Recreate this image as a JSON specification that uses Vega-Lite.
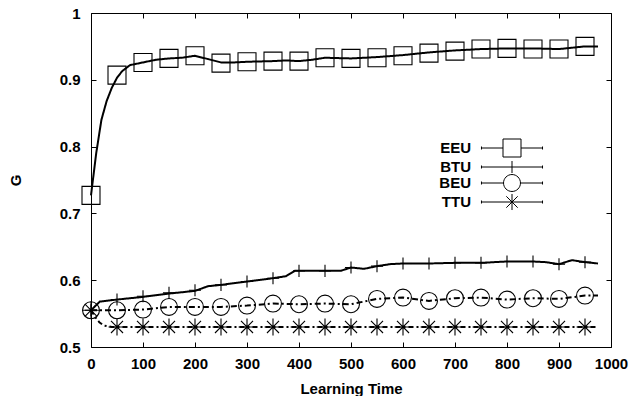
{
  "$schema": "https://vega.github.io/schema/vega-lite/v6.json",
  "width": 520,
  "height": 334,
  "autosize": "none",
  "padding": {"left": 91, "top": 13, "right": 33, "bottom": 49},
  "background": "white",
  "config": {
    "view": {"stroke": "black", "strokeWidth": 1},
    "font": "Liberation Sans"
  },
  "datasets": {
    "lines": [
      {"series": "EEU", "t": 0, "g": 0.727}, {"series": "EEU", "t": 10, "g": 0.79}, {"series": "EEU", "t": 20, "g": 0.84},
      {"series": "EEU", "t": 30, "g": 0.868}, {"series": "EEU", "t": 40, "g": 0.888}, {"series": "EEU", "t": 50, "g": 0.903},
      {"series": "EEU", "t": 60, "g": 0.913}, {"series": "EEU", "t": 75, "g": 0.922}, {"series": "EEU", "t": 100, "g": 0.926},
      {"series": "EEU", "t": 125, "g": 0.93}, {"series": "EEU", "t": 150, "g": 0.932}, {"series": "EEU", "t": 175, "g": 0.933},
      {"series": "EEU", "t": 200, "g": 0.936}, {"series": "EEU", "t": 225, "g": 0.931}, {"series": "EEU", "t": 250, "g": 0.926},
      {"series": "EEU", "t": 275, "g": 0.926}, {"series": "EEU", "t": 300, "g": 0.927}, {"series": "EEU", "t": 350, "g": 0.928},
      {"series": "EEU", "t": 375, "g": 0.929}, {"series": "EEU", "t": 400, "g": 0.928}, {"series": "EEU", "t": 425, "g": 0.93},
      {"series": "EEU", "t": 450, "g": 0.933}, {"series": "EEU", "t": 500, "g": 0.932}, {"series": "EEU", "t": 525, "g": 0.933},
      {"series": "EEU", "t": 550, "g": 0.934}, {"series": "EEU", "t": 600, "g": 0.937}, {"series": "EEU", "t": 650, "g": 0.941},
      {"series": "EEU", "t": 700, "g": 0.944}, {"series": "EEU", "t": 750, "g": 0.946}, {"series": "EEU", "t": 800, "g": 0.947},
      {"series": "EEU", "t": 850, "g": 0.947}, {"series": "EEU", "t": 900, "g": 0.946}, {"series": "EEU", "t": 925, "g": 0.948},
      {"series": "EEU", "t": 950, "g": 0.95}, {"series": "EEU", "t": 975, "g": 0.95},

      {"series": "BTU", "t": 0, "g": 0.555}, {"series": "BTU", "t": 17, "g": 0.568}, {"series": "BTU", "t": 50, "g": 0.571},
      {"series": "BTU", "t": 100, "g": 0.575}, {"series": "BTU", "t": 150, "g": 0.58}, {"series": "BTU", "t": 200, "g": 0.584},
      {"series": "BTU", "t": 225, "g": 0.591}, {"series": "BTU", "t": 250, "g": 0.593}, {"series": "BTU", "t": 300, "g": 0.598},
      {"series": "BTU", "t": 350, "g": 0.603}, {"series": "BTU", "t": 375, "g": 0.606}, {"series": "BTU", "t": 392, "g": 0.614},
      {"series": "BTU", "t": 480, "g": 0.614}, {"series": "BTU", "t": 500, "g": 0.619}, {"series": "BTU", "t": 525, "g": 0.617},
      {"series": "BTU", "t": 550, "g": 0.621}, {"series": "BTU", "t": 575, "g": 0.624}, {"series": "BTU", "t": 600, "g": 0.625},
      {"series": "BTU", "t": 650, "g": 0.625}, {"series": "BTU", "t": 700, "g": 0.626}, {"series": "BTU", "t": 750, "g": 0.626},
      {"series": "BTU", "t": 800, "g": 0.628}, {"series": "BTU", "t": 850, "g": 0.628}, {"series": "BTU", "t": 875, "g": 0.627},
      {"series": "BTU", "t": 900, "g": 0.624}, {"series": "BTU", "t": 925, "g": 0.63}, {"series": "BTU", "t": 950, "g": 0.627},
      {"series": "BTU", "t": 975, "g": 0.625},

      {"series": "BEU", "t": 0, "g": 0.555}, {"series": "BEU", "t": 50, "g": 0.555}, {"series": "BEU", "t": 100, "g": 0.556},
      {"series": "BEU", "t": 150, "g": 0.56}, {"series": "BEU", "t": 200, "g": 0.56}, {"series": "BEU", "t": 250, "g": 0.56},
      {"series": "BEU", "t": 300, "g": 0.562}, {"series": "BEU", "t": 350, "g": 0.565}, {"series": "BEU", "t": 400, "g": 0.564},
      {"series": "BEU", "t": 450, "g": 0.565}, {"series": "BEU", "t": 500, "g": 0.564}, {"series": "BEU", "t": 550, "g": 0.572},
      {"series": "BEU", "t": 600, "g": 0.574}, {"series": "BEU", "t": 650, "g": 0.569}, {"series": "BEU", "t": 700, "g": 0.573},
      {"series": "BEU", "t": 750, "g": 0.574}, {"series": "BEU", "t": 800, "g": 0.571}, {"series": "BEU", "t": 850, "g": 0.573},
      {"series": "BEU", "t": 900, "g": 0.572}, {"series": "BEU", "t": 950, "g": 0.577}, {"series": "BEU", "t": 975, "g": 0.577},

      {"series": "TTU", "t": 0, "g": 0.555}, {"series": "TTU", "t": 8, "g": 0.545}, {"series": "TTU", "t": 16, "g": 0.537},
      {"series": "TTU", "t": 25, "g": 0.532}, {"series": "TTU", "t": 40, "g": 0.53}, {"series": "TTU", "t": 500, "g": 0.53},
      {"series": "TTU", "t": 975, "g": 0.53}
    ],
    "markers": [
      {"series": "EEU", "t": 0, "g": 0.727}, {"series": "EEU", "t": 50, "g": 0.907}, {"series": "EEU", "t": 100, "g": 0.926},
      {"series": "EEU", "t": 150, "g": 0.932}, {"series": "EEU", "t": 200, "g": 0.936}, {"series": "EEU", "t": 250, "g": 0.925},
      {"series": "EEU", "t": 300, "g": 0.927}, {"series": "EEU", "t": 350, "g": 0.928}, {"series": "EEU", "t": 400, "g": 0.928},
      {"series": "EEU", "t": 450, "g": 0.933}, {"series": "EEU", "t": 500, "g": 0.932}, {"series": "EEU", "t": 550, "g": 0.933},
      {"series": "EEU", "t": 600, "g": 0.936}, {"series": "EEU", "t": 650, "g": 0.94}, {"series": "EEU", "t": 700, "g": 0.943},
      {"series": "EEU", "t": 750, "g": 0.946}, {"series": "EEU", "t": 800, "g": 0.947}, {"series": "EEU", "t": 850, "g": 0.946},
      {"series": "EEU", "t": 900, "g": 0.946}, {"series": "EEU", "t": 950, "g": 0.95},

      {"series": "BTU", "t": 0, "g": 0.555}, {"series": "BTU", "t": 50, "g": 0.571}, {"series": "BTU", "t": 100, "g": 0.576},
      {"series": "BTU", "t": 150, "g": 0.581}, {"series": "BTU", "t": 200, "g": 0.585}, {"series": "BTU", "t": 250, "g": 0.593},
      {"series": "BTU", "t": 300, "g": 0.598}, {"series": "BTU", "t": 350, "g": 0.603}, {"series": "BTU", "t": 400, "g": 0.614},
      {"series": "BTU", "t": 450, "g": 0.614}, {"series": "BTU", "t": 500, "g": 0.619}, {"series": "BTU", "t": 550, "g": 0.621},
      {"series": "BTU", "t": 600, "g": 0.625}, {"series": "BTU", "t": 650, "g": 0.625}, {"series": "BTU", "t": 700, "g": 0.626},
      {"series": "BTU", "t": 750, "g": 0.626}, {"series": "BTU", "t": 800, "g": 0.628}, {"series": "BTU", "t": 850, "g": 0.628},
      {"series": "BTU", "t": 900, "g": 0.624}, {"series": "BTU", "t": 950, "g": 0.627},

      {"series": "BEU", "t": 0, "g": 0.555}, {"series": "BEU", "t": 50, "g": 0.555}, {"series": "BEU", "t": 100, "g": 0.556},
      {"series": "BEU", "t": 150, "g": 0.56}, {"series": "BEU", "t": 200, "g": 0.56}, {"series": "BEU", "t": 250, "g": 0.56},
      {"series": "BEU", "t": 300, "g": 0.562}, {"series": "BEU", "t": 350, "g": 0.565}, {"series": "BEU", "t": 400, "g": 0.564},
      {"series": "BEU", "t": 450, "g": 0.565}, {"series": "BEU", "t": 500, "g": 0.564}, {"series": "BEU", "t": 550, "g": 0.572},
      {"series": "BEU", "t": 600, "g": 0.574}, {"series": "BEU", "t": 650, "g": 0.569}, {"series": "BEU", "t": 700, "g": 0.573},
      {"series": "BEU", "t": 750, "g": 0.574}, {"series": "BEU", "t": 800, "g": 0.571}, {"series": "BEU", "t": 850, "g": 0.573},
      {"series": "BEU", "t": 900, "g": 0.572}, {"series": "BEU", "t": 950, "g": 0.577},

      {"series": "TTU", "t": 0, "g": 0.555}, {"series": "TTU", "t": 50, "g": 0.53}, {"series": "TTU", "t": 100, "g": 0.53},
      {"series": "TTU", "t": 150, "g": 0.53}, {"series": "TTU", "t": 200, "g": 0.53}, {"series": "TTU", "t": 250, "g": 0.53},
      {"series": "TTU", "t": 300, "g": 0.53}, {"series": "TTU", "t": 350, "g": 0.53}, {"series": "TTU", "t": 400, "g": 0.53},
      {"series": "TTU", "t": 450, "g": 0.53}, {"series": "TTU", "t": 500, "g": 0.53}, {"series": "TTU", "t": 550, "g": 0.53},
      {"series": "TTU", "t": 600, "g": 0.53}, {"series": "TTU", "t": 650, "g": 0.53}, {"series": "TTU", "t": 700, "g": 0.53},
      {"series": "TTU", "t": 750, "g": 0.53}, {"series": "TTU", "t": 800, "g": 0.53}, {"series": "TTU", "t": 850, "g": 0.53},
      {"series": "TTU", "t": 900, "g": 0.53}, {"series": "TTU", "t": 950, "g": 0.53}
    ]
  },
  "layer": [
    {
      "data": {"name": "lines"},
      "mark": {"type": "line", "color": "black"},
      "encoding": {
        "x": {
          "field": "t", "type": "quantitative",
          "scale": {"domain": [0, 1000], "nice": false, "zero": false},
          "axis": {
            "orient": "bottom", "title": "Learning Time", "format": "d",
            "values": [0, 100, 200, 300, 400, 500, 600, 700, 800, 900, 1000],
            "tickSize": -5, "tickColor": "black", "tickWidth": 1,
            "labelPadding": 26, "labelBaseline": "alphabetic", "labelFlush": false,
            "domain": false, "grid": false,
            "labelFont": "Liberation Sans", "labelFontSize": 15, "labelFontWeight": "bold", "labelColor": "black",
            "titleFont": "Liberation Sans", "titleFontSize": 15, "titleFontWeight": "bold", "titleColor": "black",
            "titleY": 46, "titleBaseline": "alphabetic"
          }
        },
        "y": {
          "field": "g", "type": "quantitative",
          "scale": {"domain": [0.5, 1], "nice": false, "zero": false},
          "axis": {
            "orient": "left", "title": "G",
            "values": [0.5, 0.6, 0.7, 0.8, 0.9, 1], "format": ".1~f",
            "tickSize": -5, "tickColor": "black", "tickWidth": 1,
            "labelPadding": 16, "labelFlush": false,
            "domain": false, "grid": false,
            "labelFont": "Liberation Sans", "labelFontSize": 15, "labelFontWeight": "bold", "labelColor": "black",
            "titleFont": "Liberation Sans", "titleFontSize": 15, "titleFontWeight": "bold", "titleColor": "black",
            "titleX": -76, "titleBaseline": "middle"
          }
        },
        "strokeDash": {
          "field": "series", "type": "nominal",
          "scale": {"domain": ["EEU", "BTU", "BEU", "TTU"], "range": [[1, 0], [1, 0], [6, 3, 2, 3], [5, 3, 2, 3]]},
          "legend": null
        },
        "strokeWidth": {
          "field": "series", "type": "nominal",
          "scale": {"domain": ["EEU", "BTU", "BEU", "TTU"], "range": [2, 2, 1.5, 1.5]},
          "legend": null
        }
      }
    },
    {
      "data": {"name": "markers"},
      "mark": {"type": "point", "filled": false, "color": "black", "strokeWidth": 1.1, "opacity": 1, "size": 324},
      "encoding": {
        "x": {
          "field": "t", "type": "quantitative",
          "scale": {"domain": [0, 1000], "nice": false, "zero": false},
          "axis": {
            "orient": "top", "title": null, "labels": false,
            "values": [0, 100, 200, 300, 400, 500, 600, 700, 800, 900, 1000],
            "tickSize": -5, "tickColor": "black", "domain": false, "grid": false
          }
        },
        "y": {
          "field": "g", "type": "quantitative",
          "scale": {"domain": [0.5, 1], "nice": false, "zero": false},
          "axis": {
            "orient": "right", "title": null, "labels": false,
            "values": [0.5, 0.6, 0.7, 0.8, 0.9, 1],
            "tickSize": -5, "tickColor": "black", "domain": false, "grid": false
          }
        },
        "shape": {
          "field": "series", "type": "nominal",
          "scale": {
            "domain": ["EEU", "BTU", "BEU", "TTU"],
            "range": [
              "M-1,-1H1V1H-1Z",
              "M-0.67,0H0.67M0,-0.67V0.67",
              "M-0.94,0A0.94,0.94 0 1,0 0.94,0A0.94,0.94 0 1,0 -0.94,0Z",
              "M-0.94,0H0.94M0,-0.94V0.94M-0.67,-0.67L0.67,0.67M-0.67,0.67L0.67,-0.67"
            ]
          },
          "legend": null
        }
      }
    },
    {
      "data": {"name": "markers"},
      "mark": {"type": "point", "filled": false, "color": "black", "strokeWidth": 1, "opacity": 0},
      "encoding": {
        "x": {"field": "t", "type": "quantitative", "axis": null},
        "y": {"field": "g", "type": "quantitative", "axis": null},
        "shape": {
          "field": "series", "type": "nominal",
          "scale": {
            "domain": ["EEU", "BTU", "BEU", "TTU"],
            "range": [
              "M-4.07,0H-1.2M1.2,0H4.07M-4.07,-0.2V0.2M4.07,-0.2V0.2M-1.2,-1.2H1.2V1.2H-1.2Z",
              "M-4.07,0H4.07M0,-0.8V0.8M-4.07,-0.2V0.2M4.07,-0.2V0.2",
              "M-4.07,0H-1.13M1.13,0H4.07M-4.07,-0.2V0.2M4.07,-0.2V0.2M-1.13,0A1.13,1.13 0 1,0 1.13,0A1.13,1.13 0 1,0 -1.13,0",
              "M-4.07,0H4.07M-4.07,-0.2V0.2M4.07,-0.2V0.2M0,-1.07V1.07M-0.76,-0.76L0.76,0.76M-0.76,0.76L0.76,-0.76"
            ]
          },
          "legend": {
            "orient": "none", "legendX": 413, "legendY": 127,
            "title": null, "padding": 0, "rowPadding": -3.5,
            "symbolSize": 225, "symbolStrokeWidth": 1, "symbolOpacity": 1,
            "symbolStrokeColor": "black", "symbolFillColor": "transparent",
            "labelAlign": "right", "labelOffset": -49, "labelBaseline": "middle",
            "labelFont": "Liberation Sans", "labelFontSize": 15, "labelFontWeight": "bold", "labelColor": "black"
          }
        }
      }
    }
  ],
  "resolve": {
    "axis": {"x": "independent", "y": "independent"},
    "scale": {"shape": "independent"},
    "legend": {"shape": "independent"}
  }
}
